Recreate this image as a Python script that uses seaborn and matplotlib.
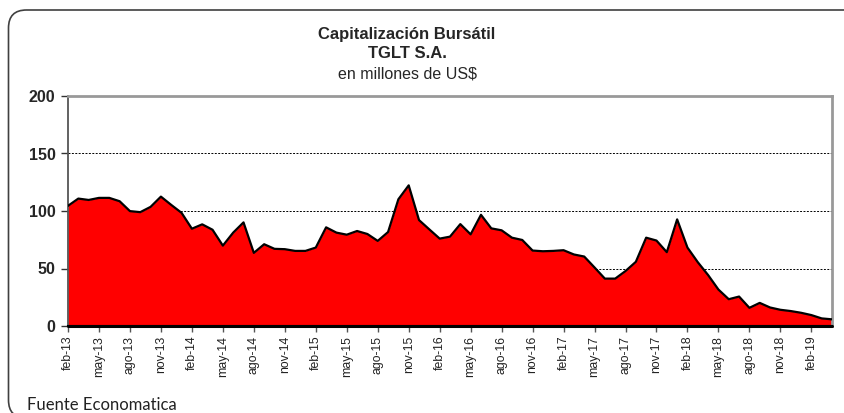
import matplotlib
matplotlib.use("Agg")
import matplotlib.pyplot as plt
import seaborn as sns
import pandas as pd
from matplotlib.patches import FancyBboxPatch

months_es = ["ene", "feb", "mar", "abr", "may", "jun", "jul", "ago", "sep", "oct", "nov", "dic"]
start_year = 2013
start_month = 2  # feb

cap_values = [104.5, 110.8, 109.6, 111.4, 111.4, 108.5, 99.9, 99.0, 103.6, 112.5,
              105.3, 98.4, 84.6, 88.4, 83.7, 69.9, 81.2, 90.1, 63.6, 71.1,
              67.1, 66.8, 65.3, 65.3, 68.2, 85.8, 81.2, 79.4, 82.6, 80.0,
              74.0, 81.7, 110.2, 122.3, 92.1, 84.0, 76.0, 77.7, 88.6, 79.7,
              96.7, 84.9, 83.2, 76.8, 74.8, 65.6, 65.0, 65.3, 65.9, 62.2,
              60.4, 50.9, 41.2, 41.2, 47.8, 55.8, 76.8, 74.3, 64.2, 92.7,
              68.2, 55.5, 44.3, 31.7, 23.3, 25.6, 15.8, 20.1, 16.1, 14.1,
              13.0, 11.5, 9.5, 6.6, 5.8]

labels = []
for i in range(len(cap_values)):
    m = (start_month - 1 + i) % 12
    y = start_year + (start_month - 1 + i) // 12
    labels.append(f"{months_es[m]}-{y % 100:02d}")

df = pd.DataFrame({"idx": range(len(cap_values)), "valor": cap_values, "mes": labels})

sns.set_theme(style="white")
plt.rcParams['font.family'] = ['Liberation Sans', 'DejaVu Sans']

fig = plt.figure(figsize=(8.44, 4.13), dpi=100)
ax = fig.add_axes([68 / 844, 1 - 326 / 413, (832 - 68) / 844, (326 - 96) / 413])

ax.fill_between(df["idx"], df["valor"], 0, color="#FF0000", zorder=2, linewidth=0)
sns.lineplot(data=df, x="idx", y="valor", ax=ax, color="black", linewidth=1.6, zorder=3)
ax.plot([0, len(cap_values) - 1], [0, 0], color="black", linewidth=2.2, zorder=4, clip_on=False)

ax.set_xlim(0, len(cap_values) - 1)
ax.set_ylim(0, 200)
ax.set_yticks([0, 50, 100, 150, 200])
ax.set_yticklabels(["0", "50", "100", "150", "200"], fontsize=11.5, fontweight="bold")
tick_pos = list(range(0, len(cap_values), 3))
ax.set_xticks(tick_pos)
ax.set_xticklabels([labels[i] for i in tick_pos], rotation=90, fontsize=8.8, color="#222222")
ax.set_xlabel("")
ax.set_ylabel("")

for v in [50, 100, 150]:
    ax.axhline(v, color="black", linewidth=0.7, linestyle=(0, (2, 1.5)), zorder=1)

ax.tick_params(axis="y", direction="out", length=5, width=1, color="#333333", pad=4, left=True)
ax.tick_params(axis="x", direction="out", length=4, width=1, color="#555555", pad=3, bottom=True)

for s in ["top", "right"]:
    ax.spines[s].set_color("#999999")
    ax.spines[s].set_linewidth(2)
ax.spines["left"].set_color("#555555")
ax.spines["left"].set_linewidth(1.3)
ax.spines["bottom"].set_color("black")
ax.spines["bottom"].set_linewidth(1.5)

cx = 407 / 844
fig.text(cx, 1 - 34 / 413, "Capitalización Bursátil", ha="center", va="center",
         fontsize=12, fontweight="bold")
fig.text(cx, 1 - 54 / 413, "TGLT S.A.", ha="center", va="center",
         fontsize=12, fontweight="bold")
fig.text(cx, 1 - 74 / 413, "en millones de US$", ha="center", va="center",
         fontsize=11.5)

fig.text(27 / 844, 1 - 405 / 413, "Fuente Economatica", ha="left", va="center",
         fontsize=12, family=["Lato", "DejaVu Sans"], color="#222222")

border = FancyBboxPatch((8.5 / 844, -5 / 413), 880 / 844, 408 / 413,
                        boxstyle="round,pad=0,rounding_size=0.0213",
                        transform=fig.transFigure, fill=False,
                        edgecolor="#404040", linewidth=1.2, mutation_aspect=844 / 413)
fig.patches.append(border)

fig.savefig("out.png", dpi=100)
